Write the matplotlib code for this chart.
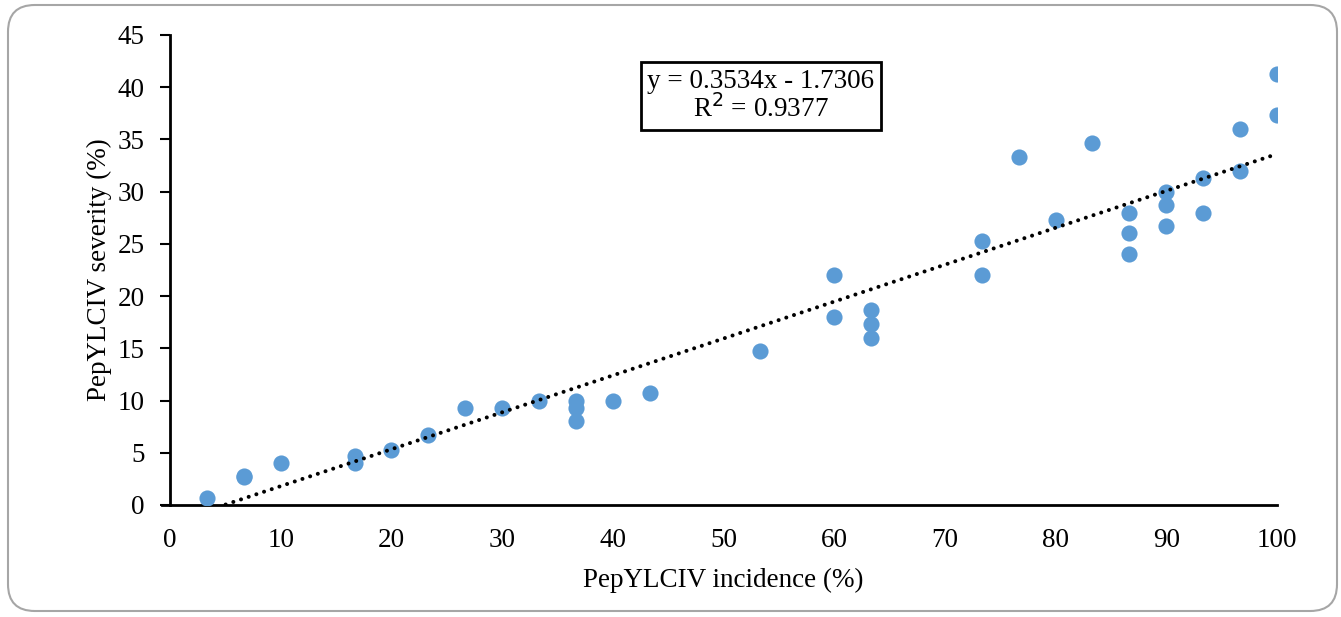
import matplotlib
matplotlib.use("Agg")
import matplotlib.pyplot as plt
import numpy as np
from matplotlib.patches import FancyBboxPatch

incidence = [3.33, 6.67, 6.67, 10, 16.67, 16.67, 20, 23.33, 26.67, 30, 33.33,
             36.67, 36.67, 36.67, 40, 43.33, 53.33, 60, 60, 63.33, 63.33, 63.33,
             73.33, 73.33, 76.67, 80, 83.33, 86.67, 86.67, 86.67, 90, 90, 90,
             93.33, 93.33, 96.67, 96.67, 100, 100]
severity = [0.7, 2.7, 2.8, 4.0, 4.7, 4.0, 5.3, 6.7, 9.3, 9.3, 10.0,
            10.0, 9.3, 8.0, 10.0, 10.7, 14.7, 22.0, 18.0, 18.7, 17.3, 16.0,
            25.3, 22.0, 33.3, 27.3, 34.7, 28.0, 26.0, 24.0, 30.0, 28.7, 26.7,
            31.3, 28.0, 36.0, 32.0, 41.3, 37.3]
slope, intercept = 0.3534, -1.7306
r2 = 0.9377
xticks = list(range(0, 101, 10))
yticks = list(range(0, 46, 5))

plt.rcParams['font.family'] = ['Liberation Serif', 'DejaVu Serif']
FS = 19.5

fig = plt.figure(figsize=(13.41, 6.17), dpi=100)
ax = fig.add_axes([170/1341, 1-505/617, (1277-170)/1341, (505-35)/617])

# rounded outer frame
frame = FancyBboxPatch((8/1341, 6/617), (1337-8)/1341, (612-6)/617,
                       boxstyle="round,pad=0,rounding_size=0.02",
                       transform=fig.transFigure, facecolor='none',
                       edgecolor='#A6A6A6', linewidth=1.5, zorder=0,
                       mutation_aspect=1341/617)
fig.patches.append(frame)

ax.scatter(incidence, severity, s=135, color='#5B9BD5', zorder=3, linewidths=0)

xl = np.linspace(min(incidence), max(incidence), 400)
yl = slope * xl + intercept
mask = yl >= 0
ax.plot(xl[mask], yl[mask], linestyle=(0, (0.01, 2.0)), color='black',
        linewidth=2.9, dash_capstyle='round', zorder=4)

ax.set_xlim(0, 100)
ax.set_ylim(0, 45)
ax.set_xticks(xticks)
ax.set_yticks(yticks)
ax.tick_params(axis='x', length=0, labelsize=FS, pad=16.5)
ax.tick_params(axis='y', length=7, width=1.5, labelsize=FS, pad=11, direction='out')
for s in ['top', 'right']:
    ax.spines[s].set_visible(False)
for s in ['left', 'bottom']:
    ax.spines[s].set_linewidth(2)
ax.spines['bottom'].set_bounds(-0.7, 100)
ax.spines['bottom'].set_clip_on(False)

ax.set_xlabel('PepYLCIV incidence (%)', fontsize=FS, labelpad=10.5)
ax.set_ylabel('PepYLCIV severity (%)', fontsize=FS, labelpad=4)

ax.text(761/1341, 1-96/617,
        f'y = {slope}x - {abs(intercept)}\nR$^2$ = {r2}',
        transform=fig.transFigure, ha='center', va='center', fontsize=FS,
        linespacing=1.05,
        bbox=dict(boxstyle='square,pad=0.25', facecolor='white',
                  edgecolor='black', linewidth=2))

fig.savefig('out.png', dpi=100)
